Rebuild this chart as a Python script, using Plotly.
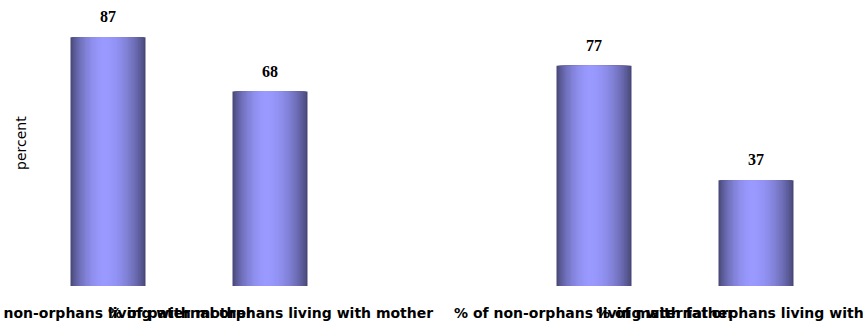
import math
import plotly.graph_objects as go

# Category labels, slot positions (slot 2 is a spacer between the two groups) and values
categories = [
    "% of non-orphans living with mother",
    "% of paternal orphans living with mother",
    "% of non-orphans living with father",
    "% of maternal orphans living with father",
]
positions = [0, 1, 3, 4]
values = [87, 68, 77, 37]

BAR_WIDTH = 0.463          # in category units
N_LAYERS = 28              # nested layers used to fake the cylinder shading
PEAK = 0.45                # where the highlight sits across the bar (0 = left, 1 = right)
EDGE_RGB = (72, 72, 120)
LIGHT_RGB = (153, 153, 255)


def shade(s):
    """Colour of a layer: s=0 is the bar edge, s=1 the highlight."""
    f = math.sin(s * math.pi / 2) ** 0.8
    r, g, b = (round(e + (l - e) * f) for e, l in zip(EDGE_RGB, LIGHT_RGB))
    return f"rgb({r},{g},{b})"


fig = go.Figure()

# Outer (dark) layers first, each next layer narrower and lighter, all sharing the values
for k in range(N_LAYERS):
    s = k / N_LAYERS
    width = BAR_WIDTH * (1 - s)
    offset = -BAR_WIDTH / 2 + BAR_WIDTH * PEAK * s
    fig.add_trace(go.Bar(
        x=positions,
        y=values,
        width=[width] * len(values),
        offset=[offset] * len(values),
        marker=dict(color=shade(s), line=dict(width=0)),
        hoverinfo="skip",
        showlegend=False,
    ))

# Value labels above each bar
for p, v in zip(positions, values):
    fig.add_annotation(
        x=p, y=v, xref="x", yref="y",
        text=f"<b>{v}</b>",
        showarrow=False, yanchor="bottom", yshift=10,
        font=dict(family="Liberation Serif", size=16, color="black"),
    )

# Category labels under the bars (drawn as annotations so the long, overlapping
# texts are not dropped at the chart edges)
for p, c in zip(positions, categories):
    fig.add_annotation(
        x=p, y=0, xref="x", yref="paper",
        text=f"<b>{c}</b>",
        showarrow=False, xanchor="center", yanchor="top", yshift=-17,
        font=dict(family="DejaVu Sans", size=14, color="black"),
    )

fig.add_annotation(
    xref="paper", yref="paper", x=-0.0075, y=0.5,
    xanchor="center", yanchor="middle",
    text="percent", textangle=-90, showarrow=False,
    font=dict(family="DejaVu Sans", size=14, color="black"),
)

fig.update_layout(
    width=863, height=326,
    margin=dict(l=27, r=26, t=0, b=40),
    paper_bgcolor="white", plot_bgcolor="white",
    barmode="overlay",
    xaxis=dict(
        range=[-0.5, 4.5],
        showticklabels=False,
        showgrid=False, zeroline=False, showline=False, ticks="",
    ),
    yaxis=dict(
        range=[0, 100],
        showticklabels=False, showgrid=False, zeroline=False, showline=False, ticks="",
    ),
)

fig.write_html("out.html")
